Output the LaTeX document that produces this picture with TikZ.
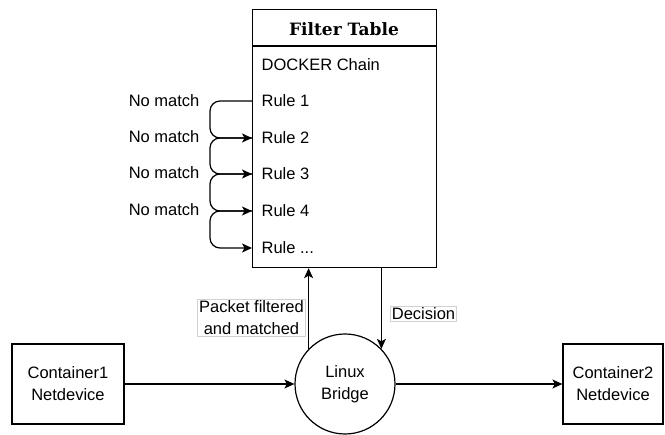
\documentclass[tikz,border=0pt]{standalone}
\usepackage{fontspec}
\setmainfont{Liberation Sans}
\newfontfamily\titlefont{DejaVu Serif}
\usetikzlibrary{arrows.meta,calc}
\begin{document}
\begin{tikzpicture}[x=1pt,y=-1pt,line width=1.2pt,
  lbl/.style={font=\fontsize{16.5}{22}\selectfont, text=black, inner sep=0pt},
  rowtxt/.style={lbl, anchor=west, text height=12pt, text depth=0pt},
  nmtxt/.style={lbl, anchor=east, text height=12pt, text depth=0pt},
  boxnode/.style={draw, lbl, align=center, minimum height=80pt},
  arr/.style={-{Stealth[length=10pt,width=9pt,inset=2.5pt]}},
  elbl/.style={lbl, align=center, fill=white, draw=black!18, line width=0.6pt, inner sep=1.5pt}]
\useasboundingbox (0,0) rectangle (665,435);
% filter table
\node[draw, anchor=north west, minimum width=184pt, minimum height=258pt, inner sep=0pt] (tbl) at (252,9) {};
\draw ([yshift=-37pt]tbl.north west) -- ([yshift=-37pt]tbl.north east);
\node[font=\titlefont\bfseries\fontsize{17}{20}\selectfont, inner sep=0pt] (ttl) at (344,29) {Filter Table};
\node[rowtxt] (dc) at (261,65) {DOCKER Chain};
\node[rowtxt] (r1) at (261,101) {Rule 1};
\node[rowtxt] (r2) at (261,138) {Rule 2};
\node[rowtxt] (r3) at (261,174) {Rule 3};
\node[rowtxt] (r4) at (261,211) {Rule 4};
\node[rowtxt] (r5) at (261,248) {Rule ...};
% no match labels
\node[nmtxt] (n1) at (200,101) {No match};
\node[nmtxt] (n2) at (200,137) {No match};
\node[nmtxt] (n3) at (200,173) {No match};
\node[nmtxt] (n4) at (200,210) {No match};
% rule connectors
\draw[arr, rounded corners=10pt] (tbl.west |- r1) -- ++(-42,0) |- (tbl.west |- r2);
\draw[arr, rounded corners=10pt] (tbl.west |- r2) -- ++(-42,0) |- (tbl.west |- r3);
\draw[arr, rounded corners=10pt] (tbl.west |- r3) -- ++(-42,0) |- (tbl.west |- r4);
\draw[arr, rounded corners=10pt] (tbl.west |- r4) -- ++(-42,0) |- (tbl.west |- r5);
% bottom row
\node[boxnode, minimum width=112pt] (c1) at (68,384) {Container1\\Netdevice};
\node[circle, draw, lbl, align=center, minimum size=100pt] (br) at (345,384) {Linux\\Bridge};
\node[boxnode, minimum width=100pt] (c2) at (613,384) {Container2\\Netdevice};
\draw[arr] (c1.east) -- (br.west);
\draw[arr] (br.east) -- (c2.west);
\draw[arr] (br.136) -- (tbl.south -| br.136);
\draw[arr] (tbl.south -| br.44) -- (br.44);
\node[elbl] (pf) at (251.5,317.5) {Packet filtered\\and matched};
\node[elbl] (dl) at (423.5,314) {Decision};
\end{tikzpicture}
\end{document}
